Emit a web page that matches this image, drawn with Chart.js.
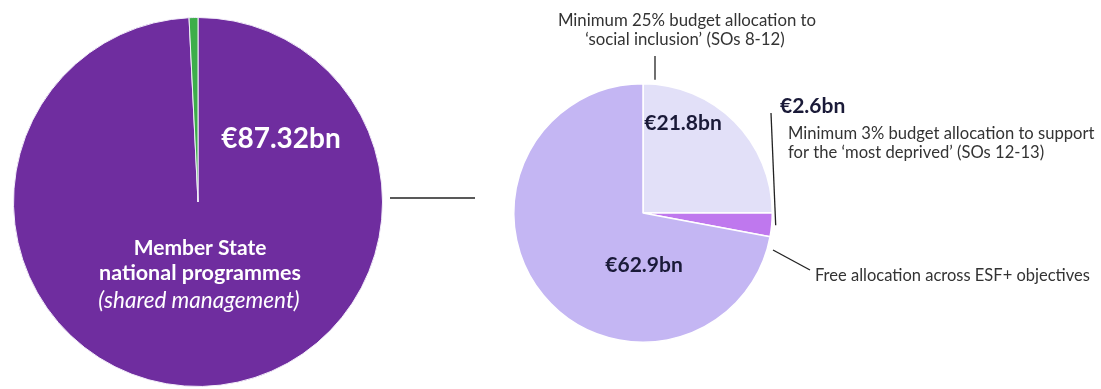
<!DOCTYPE html>
<html>
<head>
<meta charset="utf-8">
<script src="https://cdn.jsdelivr.net/npm/chart.js@4.4.1/dist/chart.umd.min.js"></script>
<style>
  html, body { margin: 0; padding: 0; background: #fff; }
  #wrap { position: relative; width: 1101px; height: 389px; overflow: hidden; }
  .box { position: absolute; top: 0; }
  #rightBox { left: 0; width: 1101px; height: 389px; }
  #leftBox { left: 0; width: 400px; height: 389px; }
</style>
</head>
<body>
<div id="wrap">
  <div class="box" id="rightBox"><canvas id="esfChart"></canvas></div>
  <div class="box" id="leftBox"><canvas id="totalChart"></canvas></div>
</div>
<script>
// ESF+ budget split (EUR bn)
let totalLabels = ['Member State national programmes (shared management)', 'Direct management'];
let totalValues = [87.32, 0.68];
let totalColors = ['#6F2D9F', '#3DAE4A'];

let esfLabels = ['Social inclusion (SOs 8-12)', 'Most deprived (SOs 12-13)', 'Free allocation across ESF+ objectives'];
let esfValues = [21.8, 2.6, 62.9];
let esfColors = ['#E2E0F8', '#BF78EE', '#C4B6F3'];

let fontFamily = "Lato, 'Open Sans', sans-serif";
let darkText = '#1a1a38';
let greyText = '#333333';

function fmt(v) {
	return '\u20ac' + v + 'bn';
}

function text(ctx, str, x, y, font, color, align) {
	ctx.font = font;
	ctx.fillStyle = color;
	ctx.textAlign = align || 'center';
	ctx.textBaseline = 'middle';
	ctx.fillText(str, x, y);
}

function line(ctx, x1, y1, x2, y2) {
	ctx.beginPath();
	ctx.moveTo(x1, y1);
	ctx.lineTo(x2, y2);
	ctx.strokeStyle = '#222';
	ctx.lineWidth = 1.3;
	ctx.stroke();
}

// white labels inside the big purple pie
let totalLabelPlugin = {
	id: 'totalLabels',
	afterDraw: (chart) => {
		let ctx = chart.ctx;
		let arc = chart.getDatasetMeta(0).data[0];
		let cx = arc.x, cy = arc.y;
		ctx.save();
		text(ctx, fmt(totalValues[0]), cx + 83, cy - 63, 'bold 28px ' + fontFamily, '#fff');
		text(ctx, 'Member State', cx + 2, cy + 46, 'bold 21px ' + fontFamily, '#fff');
		text(ctx, 'national programmes', cx + 2, cy + 71, 'bold 21.5px ' + fontFamily, '#fff');
		text(ctx, '(shared management)', cx + 1, cy + 99, 'italic 22.5px ' + fontFamily, '#fff');
		ctx.restore();
	}
};

// values and callouts around the ESF+ pie
let esfLabelPlugin = {
	id: 'esfLabels',
	afterDraw: (chart) => {
		let ctx = chart.ctx;
		let arcs = chart.getDatasetMeta(0).data;
		let cx = arcs[0].x, cy = arcs[0].y, r = arcs[0].outerRadius;
		ctx.save();

		// connector between the two pies
		line(ctx, 390, cy - 15, 475, cy - 15);

		// social inclusion
		text(ctx, 'Minimum 25% budget allocation to', cx + 44, 21, '16.8px ' + fontFamily, greyText);
		text(ctx, '\u2018social inclusion\u2019 (SOs 8-12)', cx + 42, 40, '16.8px ' + fontFamily, greyText);
		line(ctx, cx + 12, 56, cx + 12, cy - r - 4);
		text(ctx, fmt(esfValues[0]), cx + 40, cy - 90, 'bold 21px ' + fontFamily, darkText);

		// most deprived
		let a = arcs[1];
		let mid = (a.startAngle + a.endAngle) / 2;
		line(ctx, cx + Math.cos(mid) * (r + 4), cy + Math.sin(mid) * (r + 4), 771, 113);
		text(ctx, fmt(esfValues[1]), 780, 106, 'bold 21px ' + fontFamily, darkText, 'left');
		text(ctx, 'Minimum 3% budget allocation to support', 788, 134, '16.6px ' + fontFamily, greyText, 'left');
		text(ctx, 'for the \u2018most deprived\u2019 (SOs 12-13)', 788, 153, '16.6px ' + fontFamily, greyText, 'left');

		// free allocation
		text(ctx, fmt(esfValues[2]), cx + 1, cy + 52, 'bold 21px ' + fontFamily, darkText);
		line(ctx, cx + 130, cy + 37, 810, cy + 57);
		text(ctx, 'Free allocation across ESF+ objectives', 815, cy + 63, '16.5px ' + fontFamily, greyText, 'left');

		ctx.restore();
	}
};

let baseOptions = {
	responsive: true,
	maintainAspectRatio: false,
	animation: false,
	events: [],
	plugins: {
		legend: { display: false },
		tooltip: { enabled: false }
	}
};

new Chart(document.getElementById('totalChart').getContext('2d'), {
	type: 'pie',
	data: {
		labels: totalLabels,
		datasets: [{
			data: totalValues,
			backgroundColor: totalColors,
			borderColor: '#f3eefa',
			borderWidth: 1
		}]
	},
	options: Object.assign({}, baseOptions, {
		layout: { padding: { left: 13, top: 17, right: 17, bottom: 2 } }
	}),
	plugins: [totalLabelPlugin]
});

new Chart(document.getElementById('esfChart').getContext('2d'), {
	type: 'pie',
	data: {
		labels: esfLabels,
		datasets: [{
			data: esfValues,
			backgroundColor: esfColors,
			borderColor: '#ffffff',
			borderWidth: 1.5
		}]
	},
	options: Object.assign({}, baseOptions, {
		layout: { padding: { left: 513, top: 83, right: 328, bottom: 46 } }
	}),
	plugins: [esfLabelPlugin]
});
</script>
</body>
</html>
